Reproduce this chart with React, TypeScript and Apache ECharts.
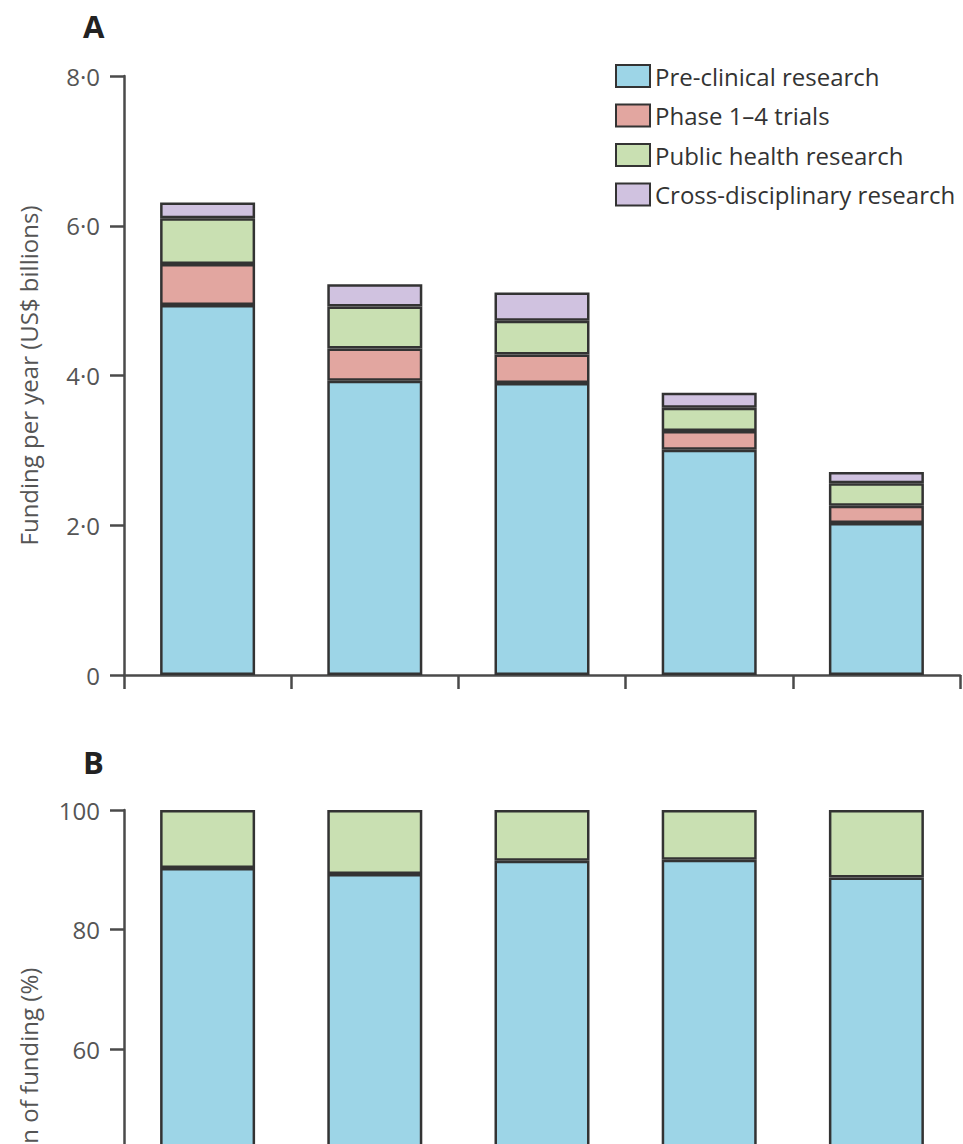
import React, { useEffect, useRef } from "react";
import * as echarts from "echarts";

const categories = ["1", "2", "3", "4", "5"];
const seriesNames = [
  "Pre-clinical research",
  "Phase 1–4 trials",
  "Public health research",
  "Cross-disciplinary research",
];
const preClinical = [4.94, 3.93, 3.9, 3.01, 2.03];
const phaseTrials = [0.55, 0.43, 0.38, 0.25, 0.23];
const publicHealth = [0.61, 0.56, 0.45, 0.31, 0.3];
const crossDisciplinary = [0.21, 0.3, 0.38, 0.2, 0.15];

const sharePreClinical = [90.3, 89.3, 91.5, 91.7, 88.7];
const sharePublicHealth = [9.7, 10.7, 8.5, 8.3, 11.3];

const colors = ["#9dd5e7", "#e2a6a0", "#c9e0b2", "#d0c2e0"];

const FONT = "Open Sans";
const AXIS_COLOR = "#4a4a4a";
const LABEL_COLOR = "#555555";
const CHART_HEIGHT = 1420;

export default function App() {
  const ref = useRef<HTMLDivElement>(null);

  useEffect(() => {
    if (!ref.current) return;
    const chart = echarts.init(ref.current, null, { renderer: "svg" });

    const barStyle = (i: number) => ({
      color: colors[i],
      borderColor: "#333333",
      borderWidth: 2.5,
    });

    const xAxisBase = (gridIndex: number) => ({
      type: "category" as const,
      gridIndex,
      data: categories,
      boundaryGap: true,
      axisLine: { lineStyle: { color: AXIS_COLOR, width: 2.5 } },
      axisTick: { show: true, length: 14, lineStyle: { color: AXIS_COLOR, width: 2.5 } },
      axisLabel: { show: false },
    });

    const yAxisBase = {
      nameLocation: "middle",
      nameGap: 84,
      nameTextStyle: { fontFamily: FONT, fontSize: 24, color: LABEL_COLOR },
      axisLine: { show: true, lineStyle: { color: AXIS_COLOR, width: 2.5 } },
      axisTick: { show: true, length: 14, lineStyle: { color: AXIS_COLOR, width: 2.5 } },
      splitLine: { show: false },
    };

    const option: any = {
      animation: false,
      textStyle: { fontFamily: FONT },
      title: [
        {
          text: "A",
          left: 78,
          top: 5,
          textStyle: { fontFamily: FONT, fontSize: 31, fontWeight: "bold", color: "#222" },
        },
        {
          text: "B",
          left: 78,
          top: 741,
          textStyle: { fontFamily: FONT, fontSize: 31, fontWeight: "bold", color: "#222" },
        },
      ],
      legend: {
        data: seriesNames,
        orient: "vertical",
        left: 610,
        top: 59,
        icon: "rect",
        itemWidth: 34,
        itemHeight: 22,
        itemGap: 15.5,
        textStyle: { fontFamily: FONT, fontSize: 24, lineHeight: 22, color: "#333" },
      },
      grid: [
        { left: 124, right: 3, top: 76, bottom: CHART_HEIGHT - 675 },
        { left: 124, right: 3, top: 810, bottom: CHART_HEIGHT - 1410 },
      ],
      xAxis: [xAxisBase(0), xAxisBase(1)],
      yAxis: [
        {
          ...yAxisBase,
          type: "value",
          gridIndex: 0,
          min: 0,
          max: 8,
          interval: 2,
          name: "Funding per year (US$ billions)",
          axisLabel: {
            margin: 24,
            fontFamily: FONT,
            fontSize: 24,
            color: LABEL_COLOR,
            formatter: (v: number) => (v === 0 ? "0" : v.toFixed(1).replace(".", "·")),
          },
        },
        {
          ...yAxisBase,
          type: "value",
          gridIndex: 1,
          min: 0,
          max: 100,
          interval: 20,
          name: "Proportion of funding (%)",
          axisLabel: { margin: 24, fontFamily: FONT, fontSize: 24, color: LABEL_COLOR },
        },
      ],
      series: [
        { name: seriesNames[0], type: "bar", stack: "a", xAxisIndex: 0, yAxisIndex: 0, barWidth: 95, data: preClinical, itemStyle: barStyle(0) },
        { name: seriesNames[1], type: "bar", stack: "a", xAxisIndex: 0, yAxisIndex: 0, barWidth: 95, data: phaseTrials, itemStyle: barStyle(1) },
        { name: seriesNames[2], type: "bar", stack: "a", xAxisIndex: 0, yAxisIndex: 0, barWidth: 95, data: publicHealth, itemStyle: barStyle(2) },
        { name: seriesNames[3], type: "bar", stack: "a", xAxisIndex: 0, yAxisIndex: 0, barWidth: 95, data: crossDisciplinary, itemStyle: barStyle(3) },
        { name: seriesNames[0], type: "bar", stack: "b", xAxisIndex: 1, yAxisIndex: 1, barWidth: 95, data: sharePreClinical, itemStyle: barStyle(0) },
        { name: seriesNames[2], type: "bar", stack: "b", xAxisIndex: 1, yAxisIndex: 1, barWidth: 95, data: sharePublicHealth, itemStyle: barStyle(2) },
      ],
    };

    chart.setOption(option);
    return () => chart.dispose();
  }, []);

  return (
    <div
      style={{
        position: "absolute",
        left: 0,
        top: 0,
        width: 963,
        height: 1144,
        overflow: "hidden",
        background: "#fff",
      }}
    >
      <div ref={ref} style={{ width: 963, height: CHART_HEIGHT }} />
    </div>
  );
}
